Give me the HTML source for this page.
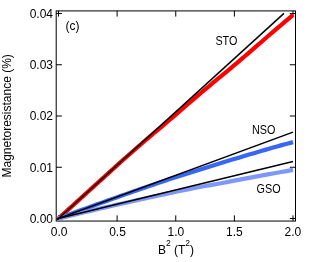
<!DOCTYPE html>
<html><head><meta charset="utf-8">
<style>
html,body{margin:0;padding:0;background:#fff;}
svg{display:block;will-change:transform;}
text{font-family:"Liberation Sans",sans-serif;fill:#000;}
</style></head>
<body>
<svg width="322" height="262" viewBox="0 0 322 262">
<rect width="322" height="262" fill="#fff"/>
<g stroke="#000" stroke-width="1" fill="none">
<rect x="56.2" y="10.9" width="239.3" height="210.15"/>
<path d="M58.50 221.05v-5.7M117.12 221.05v-5.7M175.75 221.05v-5.7M234.38 221.05v-5.7M293.00 221.05v-5.7"/>
<path d="M58.50 10.9v5.7M117.12 10.9v5.7M175.75 10.9v5.7M234.38 10.9v5.7M293.00 10.9v5.7"/>
<path d="M56.2 218.50h5.7M56.2 167.25h5.7M56.2 116.00h5.7M56.2 64.75h5.7M56.2 13.50h5.7"/>
<path d="M295.5 218.50h-5.7M295.5 167.25h-5.7M295.5 116.00h-5.7M295.5 64.75h-5.7M295.5 13.50h-5.7"/>
</g>
<g fill="none" stroke-linecap="butt" stroke-linejoin="round">
<path d="M57.33 219.57 L61.32 215.92 L65.32 212.27 L69.31 208.62 L73.31 204.98 L77.30 201.35 L81.29 197.72 L85.29 194.10 L89.28 190.49 L93.28 186.88 L97.27 183.24 L101.27 179.60 L105.26 175.97 L109.26 172.34 L113.25 168.72 L117.24 165.11 L121.24 161.50 L125.23 157.96 L129.23 154.46 L133.22 150.96 L137.22 147.48 L141.21 143.99 L145.21 140.52 L149.20 137.12 L153.19 133.75 L157.19 130.39 L161.18 127.04 L165.18 123.69 L169.17 120.25 L173.17 116.80 L177.16 113.35 L181.16 109.90 L185.15 106.46 L189.14 103.03 L193.14 99.60 L197.13 96.18 L201.13 92.77 L205.12 89.36 L209.12 86.02 L213.11 82.71 L217.11 79.40 L221.10 76.10 L225.09 72.80 L229.09 69.52 L233.08 66.23 L237.08 62.89 L241.07 59.44 L245.07 56.00 L249.06 52.57 L253.06 49.14 L257.05 45.71 L261.04 42.23 L265.04 38.76 L269.03 35.29 L273.03 31.83 L277.02 28.42 L281.02 25.05 L285.01 21.68 L289.01 18.32 L293.00 14.96" stroke="#ff0000" stroke-width="4.2"/>
<path d="M57.33 218.94 L61.32 217.45 L65.32 215.96 L69.31 214.49 L73.31 213.01 L77.30 211.55 L81.29 210.09 L85.29 208.64 L89.28 207.19 L93.28 205.75 L97.27 204.31 L101.27 202.88 L105.26 201.45 L109.26 200.04 L113.25 198.62 L117.24 197.22 L121.24 195.80 L125.23 194.39 L129.23 192.99 L133.22 191.59 L137.22 190.20 L141.21 188.82 L145.21 187.44 L149.20 186.06 L153.19 184.70 L157.19 183.34 L161.18 181.98 L165.18 180.64 L169.17 179.35 L173.17 178.06 L177.16 176.77 L181.16 175.49 L185.15 174.22 L189.14 172.95 L193.14 171.69 L197.13 170.43 L201.13 169.18 L205.12 167.94 L209.12 166.70 L213.11 165.47 L217.11 164.24 L221.10 163.02 L225.09 161.80 L229.09 160.58 L233.08 159.36 L237.08 158.16 L241.07 156.96 L245.07 155.76 L249.06 154.58 L253.06 153.39 L257.05 152.22 L261.04 151.05 L265.04 149.88 L269.03 148.72 L273.03 147.57 L277.02 146.46 L281.02 145.36 L285.01 144.28 L289.01 143.20 L293.00 142.12" stroke="#3867f5" stroke-width="4.2"/>
<path d="M57.33 218.79 L61.32 217.81 L65.32 216.84 L69.31 215.87 L73.31 214.91 L77.30 213.95 L81.29 213.00 L85.29 212.05 L89.28 211.11 L93.28 210.17 L97.27 209.23 L101.27 208.30 L105.26 207.38 L109.26 206.46 L113.25 205.55 L117.24 204.64 L121.24 203.73 L125.23 202.83 L129.23 201.93 L133.22 201.04 L137.22 200.16 L141.21 199.27 L145.21 198.40 L149.20 197.53 L153.19 196.66 L157.19 195.80 L161.18 194.94 L165.18 194.08 L169.17 193.24 L173.17 192.39 L177.16 191.55 L181.16 190.72 L185.15 189.89 L189.14 189.07 L193.14 188.25 L197.13 187.47 L201.13 186.75 L205.12 186.05 L209.12 185.34 L213.11 184.64 L217.11 183.95 L221.10 183.24 L225.09 182.46 L229.09 181.68 L233.08 180.91 L237.08 180.14 L241.07 179.38 L245.07 178.62 L249.06 177.87 L253.06 177.12 L257.05 176.38 L261.04 175.64 L265.04 174.91 L269.03 174.18 L273.03 173.45 L277.02 172.73 L281.02 172.02 L285.01 171.31 L289.01 170.60 L293.00 169.90" stroke="#7d97fa" stroke-width="4.2"/>
<path d="M57.09 219.78 L283.97 13.41" stroke="#000" stroke-width="1.5"/>
<path d="M57.09 219.02 L293.00 132.09" stroke="#000" stroke-width="1.5"/>
<path d="M57.09 218.84 L293.00 161.51" stroke="#000" stroke-width="1.5"/>
</g>
<g font-size="12" text-anchor="end">
<text x="53.0" y="223.10">0.00</text>
<text x="53.0" y="171.55">0.01</text>
<text x="53.0" y="119.90">0.02</text>
<text x="53.0" y="69.20">0.03</text>
<text x="53.0" y="18.10">0.04</text>
</g>
<g font-size="12" text-anchor="middle">
<text x="59.10" y="235.55">0.0</text>
<text x="117.53" y="235.55">0.5</text>
<text x="175.85" y="235.55">1.0</text>
<text x="234.38" y="235.55">1.5</text>
<text x="292.80" y="235.55">2.0</text>
</g>
<text font-size="12" text-anchor="middle" x="176" y="254.3">B<tspan font-size="8.5" dy="-8.5">2</tspan><tspan dy="8.5"> (T</tspan><tspan font-size="8.5" dy="-8.5">2</tspan><tspan dy="8.5">)</tspan></text>
<text font-size="12" text-anchor="middle" transform="translate(11.2 115.85) rotate(-90)">Magnetoresistance (%)</text>
<text font-size="12" transform="translate(65.6 30) scale(1.0 1)">(c)</text>
<text font-size="12" transform="translate(215.4 44.6) scale(0.9 1)">STO</text>
<text font-size="12" transform="translate(252.0 134.1) scale(0.9 1)">NSO</text>
<text font-size="12" transform="translate(256.6 193.4) scale(0.9 1)">GSO</text>
</svg>
</body></html>
